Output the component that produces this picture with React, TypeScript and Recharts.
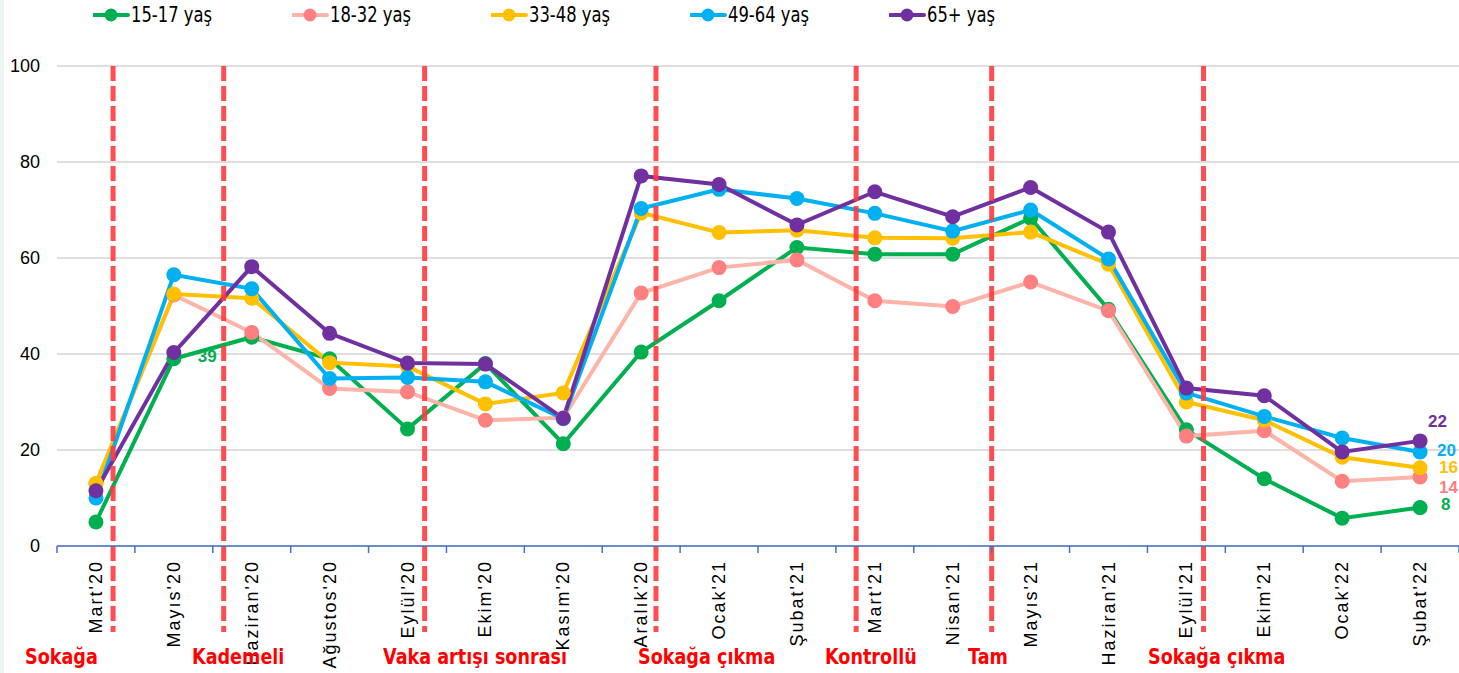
import { LineChart, Line, XAxis, YAxis, CartesianGrid, ReferenceLine, LabelList } from 'recharts';

// 月份（横轴类别）
const categories = [
  "Mart'20", "Mayıs'20", "Haziran'20", "Ağustos'20", "Eylül'20", "Ekim'20", "Kasım'20", "Aralık'20",
  "Ocak'21", "Şubat'21", "Mart'21", "Nisan'21", "Mayıs'21", "Haziran'21", "Eylül'21", "Ekim'21",
  "Ocak'22", "Şubat'22",
];

// 各年龄组数值
const age1517 = [5, 39, 43.5, 39, 24.4, 38, 21.3, 40.4, 51.1, 62.2, 60.8, 60.8, 68.3, 49.3, 24.2, 14, 5.8, 8];
const age1832 = [13, 52.3, 44.5, 32.8, 32.1, 26.2, 26.7, 52.7, 58, 59.6, 51.1, 49.9, 55, 49, 22.9, 24, 13.5, 14.4];
const age3348 = [13, 52.5, 51.6, 38.2, 37.4, 29.6, 31.9, 69.4, 65.3, 65.8, 64.2, 64.1, 65.4, 58.7, 30, 26.2, 18.5, 16.3];
const age4964 = [10, 56.5, 53.6, 34.9, 35.1, 34.2, 26.5, 70.3, 74.3, 72.4, 69.3, 65.6, 70, 59.8, 31.9, 27, 22.5, 19.6];
const age65 = [11.5, 40.3, 58.2, 44.3, 38.1, 37.9, 26.6, 77.1, 75.3, 66.9, 73.8, 68.6, 74.7, 65.4, 32.9, 31.3, 19.6, 21.9];

const yTicks = [0, 20, 40, 60, 80, 100];

// 事件竖线（以类别索引为单位）及其说明
const eventPositions = [0.22, 1.64, 4.22, 7.19, 9.76, 11.5, 14.22];
const eventLabels = ['Sokağa', 'Kademeli', 'Vaka artışı sonrası', 'Sokağa çıkma', 'Kontrollü', 'Tam', 'Sokağa çıkma'];
const eventLabelLeft = [25, 192, 383, 638, 825, 968, 1148];

const seriesNames = ['15-17 yaş', '18-32 yaş', '33-48 yaş', '49-64 yaş', '65+ yaş'];

const W = 1459;
const H = 673;
const X_AXIS_H = 30;
const M = { top: 66, right: 0, bottom: 127 - X_AXIS_H, left: 0 };
const Y_AXIS_W = 57;
const BAND = (W - Y_AXIS_W) / categories.length;
const NARROW = "'DejaVu Sans', sans-serif";

const series = [
  { key: 'a', name: seriesNames[0], line: '#00B050', dot: '#00B050', text: '#00B050', labels: { 1: [24, -2], 17: [21, -3] } },
  { key: 'b', name: seriesNames[1], line: '#FFB4A9', dot: '#FF8080', text: '#FF7F7F', labels: { 17: [19, 11] } },
  { key: 'c', name: seriesNames[2], line: '#FFC000', dot: '#FFC000', text: '#FFC000', labels: { 17: [19, 0] } },
  { key: 'd', name: seriesNames[3], line: '#00B0F0', dot: '#00B0F0', text: '#00B0F0', labels: { 17: [17, -1] } },
  { key: 'e', name: seriesNames[4], line: '#7030A0', dot: '#7030A0', text: '#7030A0', labels: { 17: [8, -19] } },
];

const data = categories.map((name, i) => ({
  idx: i,
  name,
  a: age1517[i],
  b: age1832[i],
  c: age3348[i],
  d: age4964[i],
  e: age65[i],
}));

// 横轴刻度：刻度线放在类别边界，文字竖排
const XTick = ({ x, y, payload }: any) => {
  const i = payload.value;
  return (
    <g>
      <line x1={x - BAND / 2} y1={y} x2={x - BAND / 2} y2={y + 7} stroke="#4472C4" strokeWidth={1.5} />
      {i === categories.length - 1 && (
        <line x1={x + BAND / 2} y1={y} x2={x + BAND / 2} y2={y + 7} stroke="#4472C4" strokeWidth={1.5} />
      )}
      <text
        x={x}
        y={y + 14}
        transform={`rotate(-90, ${x}, ${y + 14})`}
        textAnchor="end"
        dominantBaseline="central"
        fontSize={18}
        letterSpacing={2}
        fontFamily="'Liberation Sans', Arial, sans-serif"
        fill="#000"
      >
        {categories[i]}
      </text>
    </g>
  );
};

const makeLabel = (color: string, labels: Record<number, number[]>) => (props: any) => {
  const { x, y, value, index } = props;
  const off = labels[index];
  if (!off) return null;
  return (
    <text
      x={x + off[0]}
      y={y + off[1]}
      fill={color}
      fontSize={17}
      fontWeight="bold"
      fontFamily="'Liberation Sans', Arial, sans-serif"
      dominantBaseline="central"
    >
      {Math.round(value)}
    </text>
  );
};

const EventLine = (p: any) => {
  const top = Math.min(p.y1, p.y2);
  const bottom = Math.max(p.y1, p.y2);
  return (
    <line
      x1={p.x1}
      y1={top}
      x2={p.x2}
      y2={bottom + 86}
      stroke="#FF3B3F"
      strokeOpacity={0.9}
      strokeWidth={5}
      strokeDasharray="15 5"
    />
  );
};

const condensed = (scale: number): any => ({
  display: 'inline-block',
  transform: `scaleX(${scale})`,
  transformOrigin: 'left center',
  whiteSpace: 'nowrap',
});

export default function App() {
  return (
    <div style={{ position: 'absolute', left: 0, top: 0, width: W, height: H, background: '#fff', overflow: 'hidden' }}>
      <div style={{ position: 'absolute', left: 0, top: 0, width: 4, height: H, background: '#EAF5F3' }} />

      {/* 图例 */}
      <div style={{ position: 'absolute', left: 93, top: 0, height: 30, display: 'flex' }}>
        {series.map((s) => (
          <div key={s.key} style={{ width: 199, display: 'flex', alignItems: 'center', height: 30 }}>
            <svg width={37} height={16} style={{ flex: 'none' }}>
              <line x1={1} y1={8} x2={35} y2={8} stroke={s.line} strokeWidth={4} strokeLinecap="round" />
              <circle cx={18} cy={8} r={6.5} fill={s.dot} />
            </svg>
            <span style={{ fontFamily: NARROW, fontSize: 21, color: '#000', marginLeft: 1, ...condensed(0.78) }}>
              {s.name}
            </span>
          </div>
        ))}
      </div>

      <LineChart width={W} height={H} data={data} margin={M} style={{ position: 'absolute', left: 0, top: 0 }}>
        <CartesianGrid vertical={false} stroke="#D4D4D4" strokeWidth={1.5} />
        <XAxis
          dataKey="idx"
          type="number"
          domain={[-0.5, categories.length - 0.5]}
          ticks={categories.map((_, i) => i)}
          interval={0}
          height={X_AXIS_H}
          tick={<XTick />}
          tickLine={false}
          tickSize={0}
          tickMargin={0}
          axisLine={{ stroke: '#4472C4', strokeWidth: 1.5 }}
          allowDataOverflow
        />
        <YAxis
          domain={[0, 100]}
          ticks={yTicks}
          width={Y_AXIS_W}
          axisLine={false}
          tickLine={false}
          tickSize={0}
          tickMargin={17}
          tick={{ fontSize: 18, fill: '#000', fontFamily: "'Liberation Sans', Arial, sans-serif" }}
        />
        {series.map((s) => (
          <Line
            key={s.key}
            dataKey={s.key}
            name={s.name}
            stroke={s.line}
            strokeWidth={4}
            dot={{ r: 7.5, fill: s.dot, stroke: s.dot, strokeWidth: 0 }}
            activeDot={false}
            isAnimationActive={false}
          >
            <LabelList dataKey={s.key} content={makeLabel(s.text, s.labels)} />
          </Line>
        ))}
        {eventPositions.map((v, i) => (
          <ReferenceLine key={i} x={v} shape={EventLine} ifOverflow="visible" />
        ))}
      </LineChart>

      {/* 事件说明 */}
      {eventLabels.map((t, i) => (
        <div
          key={i}
          style={{
            position: 'absolute',
            left: eventLabelLeft[i],
            top: 643,
            fontFamily: NARROW,
            fontWeight: 'bold',
            fontSize: 22,
            color: '#FF0000',
            lineHeight: '28px',
            ...condensed(0.8),
          }}
        >
          {t}
        </div>
      ))}
    </div>
  );
}
